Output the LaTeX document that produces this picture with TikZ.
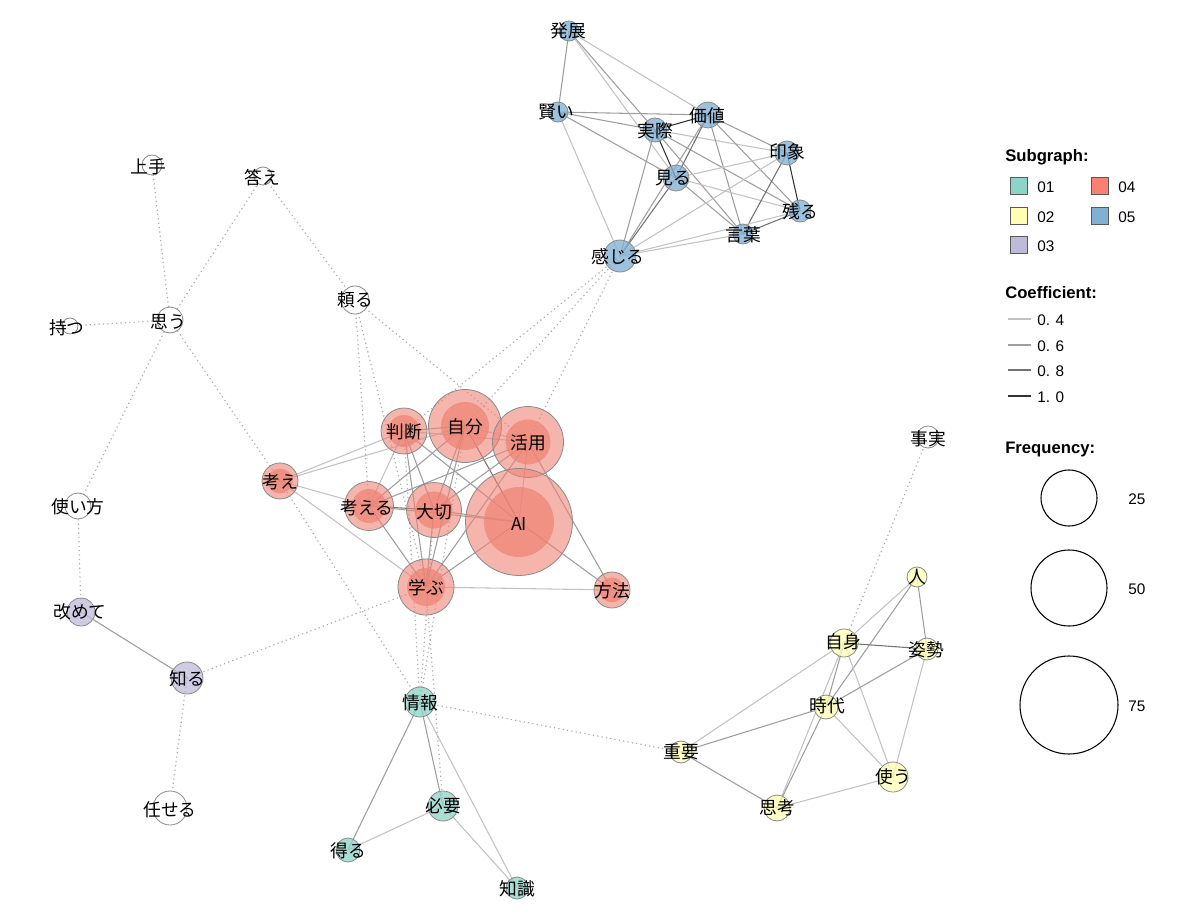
\documentclass[tikz,border=0pt]{standalone}
\usepackage{fontspec}
\setmainfont{Noto Sans CJK JP}
\newfontfamily\lgf{Liberation Sans}
\usetikzlibrary{backgrounds}
\definecolor{c01}{HTML}{8DD3C7}
\definecolor{c02}{HTML}{FFFFB3}
\definecolor{c03}{HTML}{BEBADA}
\definecolor{c04}{HTML}{EE8375}
\definecolor{c04b}{HTML}{FB8072}
\definecolor{c05}{HTML}{80B1D3}
\definecolor{bord}{HTML}{8A8A8A}
\tikzset{
  cn/.style={circle, inner sep=0pt, minimum size=#1*1.5pt, draw=bord, line width=0.6pt},
  nw/.style={fill=white},
  nb/.style={fill=c05, fill opacity=0.78},
  ng/.style={fill=c01, fill opacity=0.75},
  ny/.style={fill=c02, fill opacity=0.75},
  np/.style={fill=c03, fill opacity=0.75},
  nr/.style={fill=c04, fill opacity=0.6},
  ni/.style={circle, inner sep=0pt, minimum size=#1*1.5pt, fill=c04, fill opacity=0.72},
  lbl/.style={inner sep=0pt, font=\fontsize{13.3}{15}\selectfont, text=black},
  e04/.style={draw=black!24, line width=0.8pt},
  e06/.style={draw=black!38, line width=0.8pt},
  e08/.style={draw=black!55, line width=0.8pt},
  e10/.style={draw=black!80, line width=0.8pt},
  dl/.style={draw=black!32, line width=0.9pt, dash pattern=on 0.9pt off 2.4pt},
  lgt/.style={inner sep=0pt, anchor=west, font=\lgf\fontsize{11.5}{13}\selectfont},
  lgh/.style={inner sep=0pt, anchor=west, font=\lgf\bfseries\fontsize{12.5}{14}\selectfont},
  lbox/.style={draw=black!65, line width=0.7pt, minimum size=13pt, inner sep=0pt},
}
\begin{document}
\begin{tikzpicture}[x=0.75pt,y=-0.75pt]
\useasboundingbox (0,0) rectangle (1200,920);
% ---------- blue ----------
\node[cn=10,nb] (hatten) at (569,31) {};
\node[cn=10,nb] (kashikoi) at (558,112) {};
\node[cn=12,nb] (jissai) at (655,130) {};
\node[cn=13,nb] (kachi) at (708,115) {};
\node[cn=12,nb] (inshou) at (787,153) {};
\node[cn=13,nb] (miru) at (676,178) {};
\node[cn=11,nb] (nokoru) at (800,211) {};
\node[cn=10,nb] (kotoba) at (743,234) {};
\node[cn=16,nb] (kanjiru) at (620,256) {};
% ---------- white ----------
\node[cn=10,nw] (jouzu) at (152,165) {};
\node[cn=9,nw] (kotae) at (263,176) {};
\node[cn=14,nw] (tayoru) at (355,300) {};
\node[cn=8,nw] (motsu) at (70,326) {};
\node[cn=13,nw] (omou) at (170,320) {};
\node[cn=11,nw] (jijitsu) at (928,437) {};
\node[cn=13,nw] (tsukaikata) at (78,506) {};
\node[cn=17,nw] (makaseru) at (170,808) {};
% ---------- purple ----------
\node[cn=14,np] (aratamete) at (81,612) {};
\node[cn=16,np] (shiru) at (187,678) {};
% ---------- green ----------
\node[cn=15,ng] (jouhou) at (420,702) {};
\node[cn=15,ng] (hitsuyou) at (443,806) {};
\node[cn=12,ng] (eru) at (348,850) {};
\node[cn=11,ng] (chishiki) at (517,888) {};
% ---------- yellow ----------
\node[cn=10,ny] (hito) at (917,577) {};
\node[cn=14,ny] (jishin) at (844,643) {};
\node[cn=11,ny] (shisei) at (927,649) {};
\node[cn=12,ny] (jidai) at (826,707) {};
\node[cn=11,ny] (juuyou) at (681,752) {};
\node[cn=15,ny] (tsukau) at (893,777) {};
\node[cn=13,ny] (shikou) at (777,808) {};
% ---------- red ----------
\node[cn=23,nr] (handan) at (404,431) {};
\node[cn=36.5,nr] (jibun) at (465,426) {};
\node[cn=35.5,nr] (katsuyou) at (528,442) {};
\node[cn=18,nr] (kangae) at (280,481) {};
\node[cn=24.5,nr] (kangaeru) at (369,506) {};
\node[cn=27.5,nr] (taisetsu) at (434,510) {};
\node[cn=53.5,nr] (ai) at (519,522) {};
\node[cn=28,nr] (manabu) at (426,587) {};
\node[cn=18,nr] (houhou) at (612,590) {};
\node[ni=16] (handanI) at (handan) {};
\node[ni=24] (jibunI) at (jibun) {};
\node[ni=22.5] (katsuyouI) at (katsuyou) {};
\node[ni=12.5] (kangaeI) at (kangae) {};
\node[ni=17] (kangaeruI) at (kangaeru) {};
\node[ni=18.5] (taisetsuI) at (taisetsu) {};
\node[ni=35] (aiI) at (ai) {};
\node[ni=19] (manabuI) at (manabu) {};
\node[ni=12.5] (houhouI) at (houhou) {};
% ---------- labels ----------
\node[lbl] (t1) at (568,31) {発展};
\node[lbl] (t2) at (556,112) {賢い};
\node[lbl] (t3) at (655,131) {実際};
\node[lbl] (t4) at (707,116) {価値};
\node[lbl] (t5) at (787,152) {印象};
\node[lbl] (t6) at (673,178) {見る};
\node[lbl] (t7) at (800,212) {残る};
\node[lbl] (t8) at (743,235) {言葉};
\node[lbl] (t9) at (618,257) {感じる};
\node[lbl] (t10) at (148,167) {上手};
\node[lbl] (t11) at (262,178) {答え};
\node[lbl] (t12) at (355,300) {頼る};
\node[lbl] (t13) at (67,328) {持つ};
\node[lbl] (t14) at (168,322) {思う};
\node[lbl] (t15) at (928,439) {事実};
\node[lbl] (t16) at (78,507) {使い方};
\node[lbl] (t17) at (170,810) {任せる};
\node[lbl] (t18) at (80,612) {改めて};
\node[lbl] (t19) at (187,679) {知る};
\node[lbl] (t20) at (420,703) {情報};
\node[lbl] (t21) at (443,806) {必要};
\node[lbl] (t22) at (348,851) {得る};
\node[lbl] (t23) at (517,889) {知識};
\node[lbl] (t24) at (917,577) {人};
\node[lbl] (t25) at (843,642) {自身};
\node[lbl] (t26) at (926,650) {姿勢};
\node[lbl] (t27) at (827,706) {時代};
\node[lbl] (t28) at (681,752) {重要};
\node[lbl] (t29) at (893,777) {使う};
\node[lbl] (t30) at (777,808) {思考};
\node[lbl] (t31) at (404,432) {判断};
\node[lbl] (t32) at (465,427) {自分};
\node[lbl] (t33) at (528,443) {活用};
\node[lbl] (t34) at (280,482) {考え};
\node[lbl] (t35) at (367,508) {考える};
\node[lbl] (t36) at (434,512) {大切};
\node[lbl] (t37) at (519,524) {AI};
\node[lbl] (t38) at (426,588) {学ぶ};
\node[lbl] (t39) at (612,591) {方法};
% ---------- edges ----------
\begin{scope}[on background layer]
% blue
\draw[e06] (hatten.center) -- (kashikoi.center);
\draw[e04] (hatten.center) -- (kachi.center);
\draw[e06] (hatten.center) -- (jissai.center);
\draw[e04] (hatten.center) -- (miru.center);
\draw[e06] (kashikoi.center) -- (kachi.center);
\draw[e06] (kashikoi.center) -- (jissai.center);
\draw[e06] (kashikoi.center) -- (miru.center);
\draw[e04] (kashikoi.center) -- (kanjiru.center);
\draw[e10] (jissai.center) -- (kachi.center);
\draw[e10] (jissai.center) -- (miru.center);
\draw[e04] (jissai.center) -- (inshou.center);
\draw[e06] (jissai.center) -- (nokoru.center);
\draw[e06] (jissai.center) -- (kotoba.center);
\draw[e06] (jissai.center) -- (kanjiru.center);
\draw[e08] (kachi.center) -- (miru.center);
\draw[e06] (kachi.center) -- (inshou.center);
\draw[e06] (kachi.center) -- (kotoba.center);
\draw[e06] (kachi.center) -- (nokoru.center);
\draw[e06] (kachi.center) -- (kanjiru.center);
\draw[e04] (miru.center) -- (inshou.center);
\draw[e04] (miru.center) -- (nokoru.center);
\draw[e06] (miru.center) -- (kotoba.center);
\draw[e08] (miru.center) -- (kanjiru.center);
\draw[e10] (inshou.center) -- (nokoru.center);
\draw[e08] (inshou.center) -- (kotoba.center);
\draw[e04] (inshou.center) -- (kanjiru.center);
\draw[e08] (kotoba.center) -- (nokoru.center);
\draw[e04] (kotoba.center) -- (kanjiru.center);
\draw[e04] (nokoru.center) -- (kanjiru.center);
% red
\draw[e04] (kangae.center) -- (handan.center);
\draw[e04] (kangae.center) -- (jibun.center);
\draw[e04] (kangae.center) -- (kangaeru.center);
\draw[e04] (kangae.center) -- (manabu.center);
\draw[e06] (handan.center) -- (jibun.center);
\draw[e04] (handan.center) -- (katsuyou.center);
\draw[e06] (handan.center) -- (ai.center);
\draw[e06] (handan.center) -- (taisetsu.center);
\draw[e06] (handan.center) -- (manabu.center);
\draw[e04] (handan.center) -- (kangaeru.center);
\draw[e04] (jibun.center) -- (katsuyou.center);
\draw[e08] (jibun.center) -- (ai.center);
\draw[e06] (jibun.center) -- (taisetsu.center);
\draw[e06] (jibun.center) -- (manabu.center);
\draw[e06] (jibun.center) -- (kangaeru.center);
\draw[e06] (katsuyou.center) -- (taisetsu.center);
\draw[e06] (katsuyou.center) -- (kangaeru.center);
\draw[e06] (katsuyou.center) -- (manabu.center);
\draw[e04] (katsuyou.center) -- (ai.center);
\draw[e06] (katsuyou.center) -- (houhou.center);
\draw[e06] (taisetsu.center) -- (ai.center);
\draw[e06] (taisetsu.center) -- (manabu.center);
\draw[e08] (kangaeru.center) -- (taisetsu.center);
\draw[e06] (kangaeru.center) -- (ai.center);
\draw[e06] (kangaeru.center) -- (manabu.center);
\draw[e06] (ai.center) -- (manabu.center);
\draw[e06] (ai.center) -- (houhou.center);
\draw[e04] (manabu.center) -- (houhou.center);
% green
\draw[e06] (jouhou.center) -- (eru.center);
\draw[e06] (jouhou.center) -- (hitsuyou.center);
\draw[e04] (jouhou.center) -- (chishiki.center);
\draw[e04] (hitsuyou.center) -- (eru.center);
\draw[e04] (hitsuyou.center) -- (chishiki.center);
% yellow
\draw[e04] (hito.center) -- (jishin.center);
\draw[e06] (hito.center) -- (jidai.center);
\draw[e06] (hito.center) -- (shisei.center);
\draw[e08] (jishin.center) -- (shisei.center);
\draw[e04] (jishin.center) -- (juuyou.center);
\draw[e06] (jishin.center) -- (jidai.center);
\draw[e04] (jishin.center) -- (shikou.center);
\draw[e04] (jishin.center) -- (tsukau.center);
\draw[e06] (shisei.center) -- (jidai.center);
\draw[e04] (shisei.center) -- (tsukau.center);
\draw[e06] (jidai.center) -- (juuyou.center);
\draw[e06] (jidai.center) -- (shikou.center);
\draw[e04] (jidai.center) -- (tsukau.center);
\draw[e06] (juuyou.center) -- (shikou.center);
\draw[e04] (shikou.center) -- (tsukau.center);
% purple
\draw[e06] (aratamete.center) -- (shiru.center);
% dotted
\draw[dl] (omou.center) -- (jouzu.center);
\draw[dl] (omou.center) -- (kotae.center);
\draw[dl] (omou.center) -- (motsu.center);
\draw[dl] (omou.center) -- (tsukaikata.center);
\draw[dl] (omou.center) -- (kangae.center);
\draw[dl] (kotae.center) -- (tayoru.center);
\draw[dl] (tayoru.center) -- (kangaeru.center);
\draw[dl] (tayoru.center) -- (manabu.center);
\draw[dl] (tayoru.center) -- (katsuyou.center);
\draw[dl] (tsukaikata.center) -- (aratamete.center);
\draw[dl] (shiru.center) -- (makaseru.center);
\draw[dl] (shiru.center) -- (manabu.center);
\draw[dl] (kangae.center) -- (jouhou.center);
\draw[dl] (jouhou.center) -- (juuyou.center);
\draw[dl] (jijitsu.center) -- (jishin.center);
\draw[dl] (kanjiru.center) -- (handan.center);
\draw[dl] (kanjiru.center) -- (jibun.center);
\draw[dl] (kanjiru.center) -- (katsuyou.center);
\draw[dl] (handan.center) -- (jouhou.center);
\draw[dl] (taisetsu.center) -- (jouhou.center);
\draw[dl] (jibun.center) -- (jouhou.center);
\draw[dl] (manabu.center) -- (hitsuyou.center);
\end{scope}
% ---------- legend ----------
\node[lgh] (hSub) at (1005,157) {Subgraph:};
\node[lbox, fill=c01] (b1) at (1019,186) {};
\node[lgt] (l1) at (1037,187) {01};
\node[lbox, fill=c02] (b2) at (1019,216) {};
\node[lgt] (l2) at (1037,217) {02};
\node[lbox, fill=c03] (b3) at (1019,245) {};
\node[lgt] (l3) at (1037,246) {03};
\node[lbox, fill=c04b] (b4) at (1100,186) {};
\node[lgt] (l4) at (1118,187) {04};
\node[lbox, fill=c05] (b5) at (1100,216) {};
\node[lgt] (l5) at (1118,217) {05};
\node[lgh] (hCo) at (1005,293) {Coefficient:};
\coordinate (k1a) at (1008,319); \coordinate (k1b) at (1031,319);
\coordinate (k2a) at (1008,345); \coordinate (k2b) at (1031,345);
\coordinate (k3a) at (1008,370); \coordinate (k3b) at (1031,370);
\coordinate (k4a) at (1008,396); \coordinate (k4b) at (1031,396);
\draw[e04] (k1a) -- (k1b);
\draw[e06] (k2a) -- (k2b);
\draw[e08] (k3a) -- (k3b);
\draw[e10] (k4a) -- (k4b);
\node[lgt] (c1) at (1037,320) {0. 4};
\node[lgt] (c2) at (1037,346) {0. 6};
\node[lgt] (c3) at (1037,371) {0. 8};
\node[lgt] (c4) at (1037,397) {1. 0};
\node[lgh] (hFr) at (1005,449) {Frequency:};
\node[circle, draw=black, line width=0.8pt, inner sep=0pt, minimum size=28*1.5pt] (f1) at (1069,498) {};
\node[circle, draw=black, line width=0.8pt, inner sep=0pt, minimum size=38*1.5pt] (f2) at (1069,588) {};
\node[circle, draw=black, line width=0.8pt, inner sep=0pt, minimum size=49*1.5pt] (f3) at (1069,705) {};
\node[lgt] (n1) at (1128,499) {25};
\node[lgt] (n2) at (1128,589) {50};
\node[lgt] (n3) at (1128,706) {75};
\end{tikzpicture}
\end{document}
